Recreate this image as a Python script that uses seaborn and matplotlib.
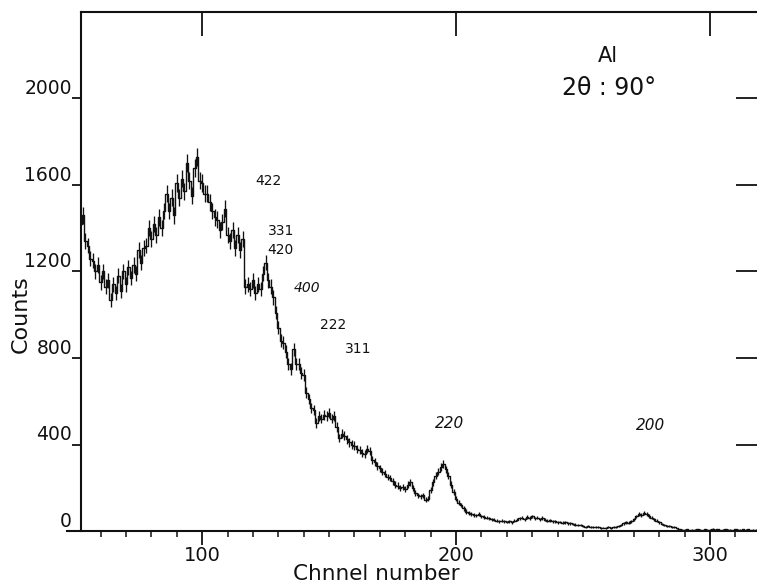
import numpy as np
import pandas as pd
import matplotlib
matplotlib.use("Agg")
import matplotlib.pyplot as plt
import seaborn as sns
from matplotlib.ticker import FixedLocator, MultipleLocator

# Al, 2-theta = 90 deg: counts per channel, starting at channel 52
first_channel = 52
counts = [
    1420, 1460, 1340, 1320, 1260, 1250, 1200, 1230, 1150, 1200,
    1130, 1160, 1070, 1140, 1100, 1180, 1110, 1200, 1140, 1220,
    1170, 1230, 1190, 1300, 1240, 1310, 1320, 1400, 1350, 1420,
    1370, 1450, 1400, 1480, 1560, 1480, 1540, 1460, 1610, 1540,
    1630, 1570, 1700, 1620, 1550, 1680, 1730, 1620, 1610, 1560,
    1560, 1520, 1480, 1450, 1440, 1390, 1430, 1490, 1370, 1340,
    1390, 1310, 1370, 1300, 1350, 1130, 1140, 1120, 1160, 1100,
    1140, 1120, 1190, 1240, 1160, 1130, 1080, 1010, 940, 880,
    870, 830, 770, 750, 840, 770, 770, 730, 720, 640,
    610, 570, 560, 500, 530, 520, 535, 530, 545, 520,
    530, 480, 430, 450, 440, 425, 410, 400, 395, 380,
    375, 360, 355, 380, 370, 330, 320, 300, 290, 275,
    265, 250, 245, 230, 215, 210, 200, 205, 195, 215,
    225, 200, 175, 165, 160, 165, 145, 150, 190, 225,
    255, 275, 295, 310, 285, 255, 215, 180, 150, 130,
    120, 105, 90, 85, 80, 75, 72, 78, 68, 65,
    62, 58, 55, 52, 48, 45, 47, 44, 42, 45,
    40, 48, 52, 58, 62, 55, 65, 60, 68, 58,
    62, 55, 60, 52, 48, 50, 44, 46, 40, 42,
    38, 40, 35, 36, 32, 30, 28, 26, 22, 20,
    22, 18, 20, 17, 18, 15, 16, 14, 17, 15,
    18, 20, 22, 28, 35, 40, 38, 45, 55, 68,
    80, 75, 82, 78, 70, 62, 55, 48, 40, 32,
    28, 25, 22, 20, 18, 12, 8, 6, 5, 7,
    4, 6, 5, 8, 6, 4, 7, 5, 6, 9,
    5, 7, 4, 6, 8, 5, 6, 4, 7, 5,
    6, 8, 5, 7, 4, 6, 5,
]
channels = list(range(first_channel, first_channel + len(counts)))

x_major_ticks = [100, 200, 300]
y_major_ticks = [0, 400, 800, 1200, 1600, 2000]
y_right_ticks = [400, 800, 1200, 1600, 2000]

# Miller indices of the reflections
reflections = ["422", "331", "420", "400", "222", "311", "220", "200"]

ink = "#111111"

sns.set_theme(style="ticks")
plt.rcParams["font.family"] = ["DejaVu Sans"]

W, H = 757, 586
fig = plt.figure(figsize=(W / 100, H / 100), dpi=100)
fig.patch.set_facecolor("white")
ax = fig.add_axes([81 / W, 55 / H, 676 / W, 519 / H])
ax.set_facecolor("white")

df = pd.DataFrame({"channel": channels, "counts": counts})
df["sigma"] = np.sqrt(df["counts"])  # Poisson counting error

sns.lineplot(data=df, x="channel", y="counts", drawstyle="steps-mid",
             color=ink, linewidth=1.0, errorbar=None, ax=ax)
ax.errorbar(df["channel"], df["counts"], yerr=df["sigma"], fmt="none",
            ecolor=ink, elinewidth=0.95, capsize=0)

ax.set_xlim(52.3, 318.5)
ax.set_ylim(0, 2400)
ax.set_xlabel("")
ax.set_ylabel("")

for side in ["left", "bottom", "top"]:
    ax.spines[side].set_linewidth(1.5)
    ax.spines[side].set_color(ink)
ax.spines["right"].set_visible(False)
ax.spines["bottom"].set_bounds(46.8, 318.5)

ax.xaxis.set_major_locator(FixedLocator(x_major_ticks))
ax.xaxis.set_minor_locator(MultipleLocator(10))
ax.set_xticklabels([str(v) for v in x_major_ticks])
ax.yaxis.set_major_locator(FixedLocator(y_major_ticks))
ax.set_yticklabels([str(v) for v in y_major_ticks])

ax.tick_params(axis="x", which="major", direction="out", length=10, width=1.3,
               color=ink, labelsize=14, pad=0.5, labelcolor=ink)
ax.tick_params(axis="x", which="minor", direction="out", length=4.5, width=1.1,
               color=ink)
ax.tick_params(axis="y", which="major", direction="out", length=6.5, width=1.3,
               color=ink, labelsize=13.5, pad=0, labelcolor=ink)
ax.tick_params(axis="y", which="minor", left=False)
for lbl in ax.get_yticklabels():
    lbl.set_verticalalignment("bottom")

# inward ticks along the top and right edges
top = ax.secondary_xaxis("top")
top.xaxis.set_major_locator(FixedLocator(x_major_ticks))
top.tick_params(direction="in", length=17, width=1.3, color=ink,
                labeltop=False)
top.spines["top"].set_visible(False)

right = ax.secondary_yaxis("right")
right.yaxis.set_major_locator(FixedLocator(y_right_ticks))
right.tick_params(direction="in", length=15, width=1.3, color=ink,
                  labelright=False)
right.spines["right"].set_visible(False)

fig.text(376 / W, 1 - 580 / H, "Chnnel number", ha="center", va="baseline",
         fontsize=15.5, color=ink)
fig.text(21 / W, 1 - 314 / H, "Counts", ha="center", va="center",
         rotation=90, fontsize=16, color=ink)

ax.text(259.8, 2197, "Al", ha="center", va="center", fontsize=15, color=ink)
ax.text(260.2, 2049, "2θ : 90°", ha="center", va="center", fontsize=17,
        color=ink)

label_spots = {
    "422": (126.3, 1618, "normal", 10),
    "331": (131.0, 1387, "normal", 10),
    "420": (131.0, 1299, "normal", 10),
    "400": (141.3, 1124, "italic", 10),
    "222": (151.5, 953, "normal", 10),
    "311": (161.4, 842, "normal", 10),
    "220": (197.6, 499, "italic", 11),
    "200": (276.7, 486, "italic", 11),
}
for name in reflections:
    lx, ly, style, size = label_spots[name]
    ax.text(lx, ly, name, ha="center", va="center", fontsize=size,
            fontstyle=style, color=ink)

fig.savefig("out.png", dpi=100, facecolor="white")
